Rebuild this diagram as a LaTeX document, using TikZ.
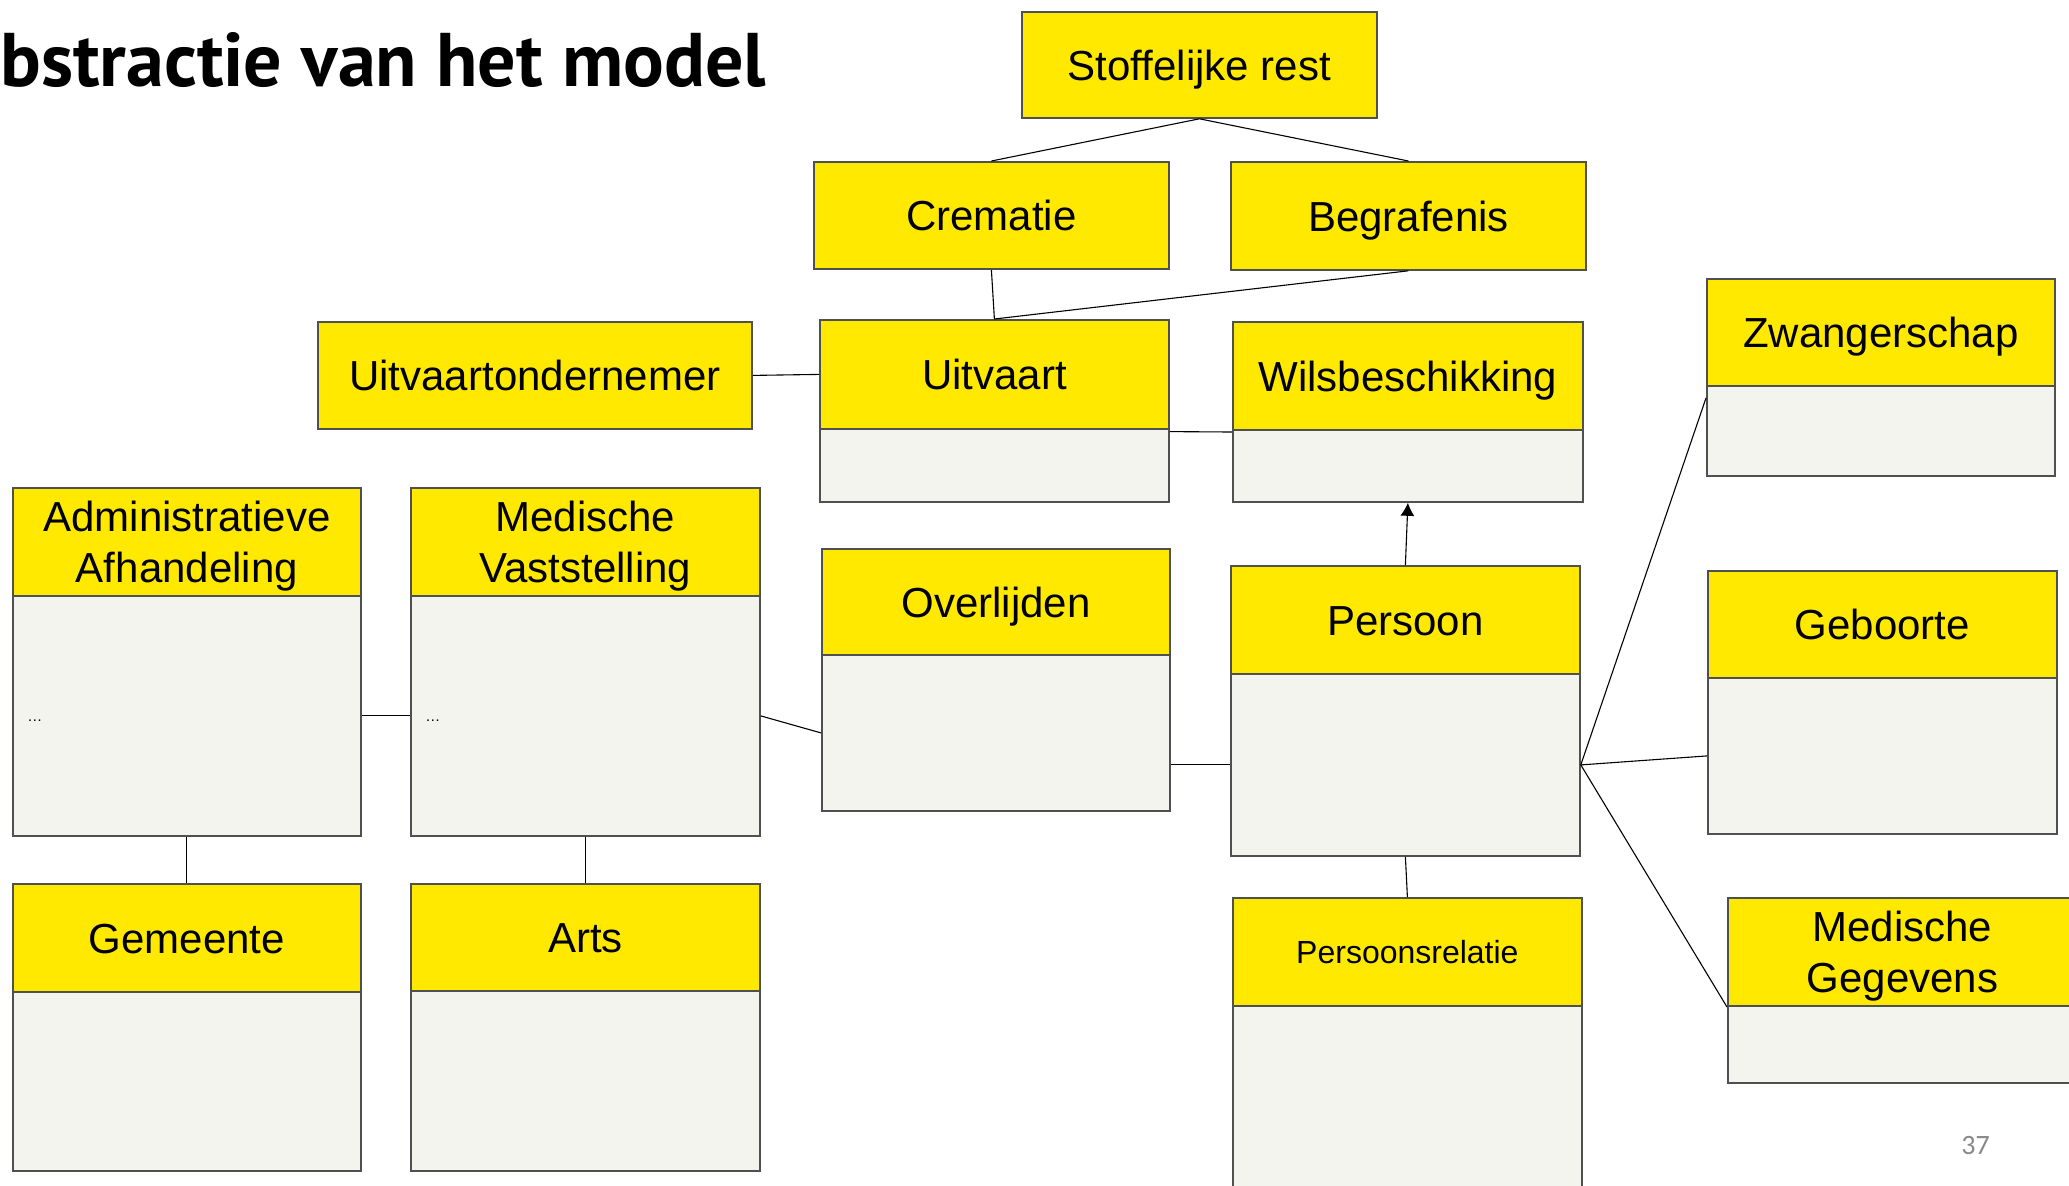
\documentclass[tikz,border=0pt]{standalone}
\usepackage{fontspec}
\setmainfont{Liberation Sans}
\newfontfamily\titlefont{PT Sans}
\newfontfamily\numfont{Carlito}
\usetikzlibrary{arrows.meta}
\definecolor{hdryellow}{RGB}{255,233,0}
\definecolor{bodygrey}{RGB}{244,244,238}
\definecolor{edgegrey}{RGB}{80,80,80}
\definecolor{pagegrey}{RGB}{137,137,137}
% name, x, y, width, header height, text
\newcommand{\hdrbox}[6]{%
  \node[hdr, anchor=north west, minimum width=#4*0.5pt, minimum height=#5*0.5pt] (#1) at (#2,#3) {#6};
}
% name, x, y, width, header height, body height, text (one line)
\newcommand{\umlclass}[7]{%
  \node[bdy, anchor=north west, minimum width=#4*0.5pt, minimum height=#6*0.5pt] (#1-b) at (#2,#3+#5) {};
  \node[hdr, anchor=north west, minimum width=#4*0.5pt, minimum height=#5*0.5pt] (#1) at (#2,#3) {#7};
}
% same, free text (several lines)
\newcommand{\umlclassfree}[7]{%
  \node[bdy, anchor=north west, minimum width=#4*0.5pt, minimum height=#6*0.5pt] (#1-b) at (#2,#3+#5) {};
  \node[hdrfree, anchor=north west, minimum width=#4*0.5pt, minimum height=#5*0.5pt] (#1) at (#2,#3) {#7};
}
\begin{document}
\begin{tikzpicture}[x=0.5pt,y=-0.5pt,
  hdrfree/.style={draw=edgegrey, line width=0.9pt, fill=hdryellow, inner sep=0pt, align=center, font=\fontsize{21}{25.5}\selectfont},
  hdr/.style={hdrfree, text height=15.2pt, text depth=0pt},
  bdy/.style={draw=edgegrey, line width=0.9pt, fill=bodygrey, inner sep=0pt},
  link/.style={draw=black, line width=0.55pt},
  dots/.style={anchor=base west, inner sep=0pt, font=\fontsize{7.5}{9}\selectfont}
]
\useasboundingbox (0,0) rectangle (2069,1185);
\clip (0,0) rectangle (2069,1185);

\node[anchor=base west, inner sep=0pt, font=\titlefont\bfseries\fontsize{38}{45}\selectfont] (title) at (0,86) {bstractie van het model};

\hdrbox{stof}{1021}{11}{355}{106}{Stoffelijke rest}
\hdrbox{crem}{813}{161}{355}{107}{Crematie}
\hdrbox{begr}{1230}{161}{355}{108}{Begrafenis}
\hdrbox{uond}{317}{321}{434}{107}{Uitvaartondernemer}
\umlclass{uitv}{819}{319}{349}{109}{73}{Uitvaart}
\umlclass{wils}{1232}{321}{350}{108}{72}{Wilsbeschikking}
\umlclass{zwan}{1706}{278}{348}{107}{90}{Zwangerschap}
\umlclassfree{admin}{12}{487}{348}{108}{240}{Administratieve\\\smash{Afhandeling}}
\umlclassfree{medv}{410}{487}{349}{108}{240}{Medische\\\smash{Vaststelling}}
\umlclass{overl}{821}{548}{348}{106}{156}{Overlijden}
\umlclass{pers}{1230}{565}{349}{108}{182}{Persoon}
\umlclass{gebo}{1707}{570}{349}{107}{156}{Geboorte}
\umlclass{gem}{12}{883}{348}{108}{179}{Gemeente}
\umlclass{arts}{410}{883}{349}{107}{180}{Arts}
\umlclassfree{prel}{1232}{897}{349}{108}{300}{\fontsize{16}{19}\selectfont Persoonsrelatie}
\umlclassfree{medg}{1727}{897}{349}{108}{77}{Medische\\\smash{Gegevens}}

\node[dots] (adots) at (27,721) {…};
\node[dots] (mdots) at (425,721) {…};

\node[anchor=base west, inner sep=0pt, font=\numfont\fontsize{14}{16}\selectfont, text=pagegrey] (pnum) at (1961,1154) {37};

\draw[link] (stof.south) -- (crem.north);
\draw[link] (stof.south) -- (begr.north);
\draw[link] (crem.south) -- (uitv.north);
\draw[link] (begr.south) -- (uitv.north);
\draw[link] (uond.east) -- (uitv.west);
\draw[link] ([yshift=-1.8pt]uitv-b.north east) -- ([yshift=-1.5pt]wils-b.north west);
\draw[link, -{Latex[length=6.5pt,width=7pt]}] (pers.north) -- (wils-b.south);
\draw[link] (admin-b.east) -- (medv-b.west);
\draw[link] (medv-b.east) -- (overl-b.west);
\draw[link] (overl-b.east |- pers-b.west) -- (pers-b.west);
\draw[link] (pers-b.east) -- ([yshift=-6.5pt]zwan-b.north west);
\draw[link] (pers-b.east) -- (gebo-b.west);
\draw[link] (pers-b.east) -- ([yshift=-1pt]medg-b.north west);
\draw[link] (pers-b.south) -- (prel.north);
\draw[link] (admin-b.south) -- (gem.north);
\draw[link] (medv-b.south) -- (arts.north);
\end{tikzpicture}
\end{document}
